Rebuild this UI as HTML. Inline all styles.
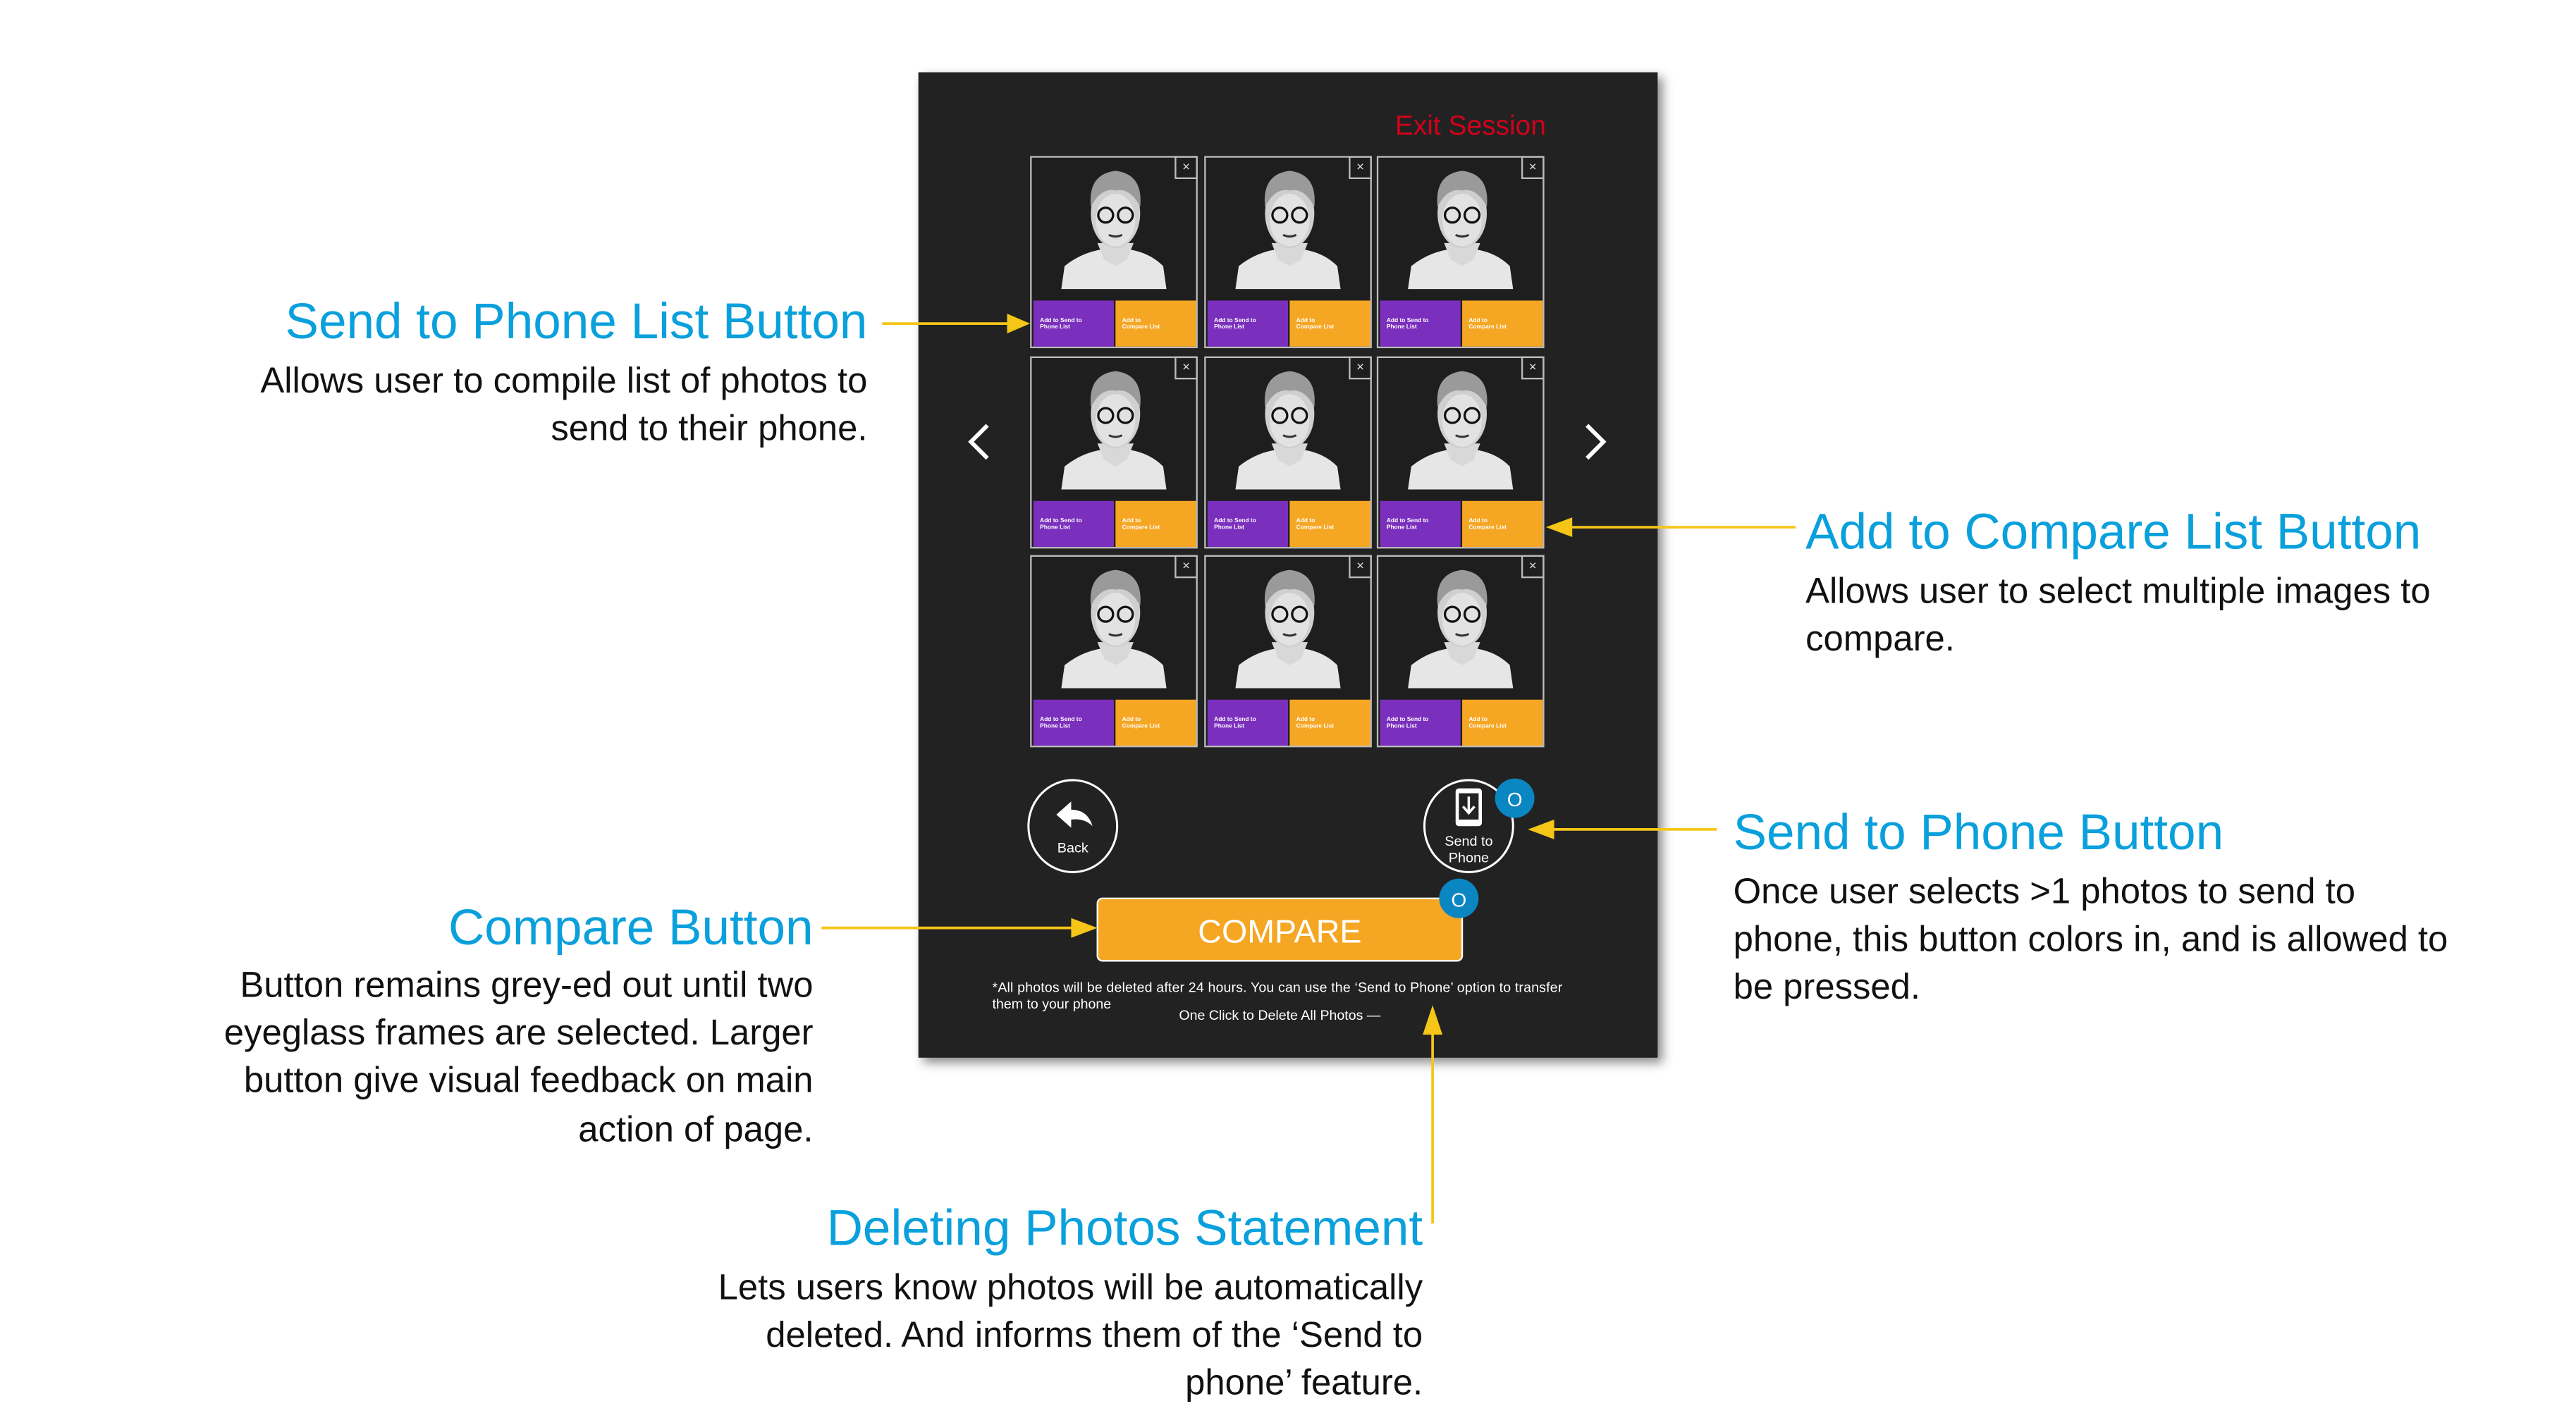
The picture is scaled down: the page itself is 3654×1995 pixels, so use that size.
<!DOCTYPE html>
<html><head><meta charset="utf-8"><style>
html,body{margin:0;padding:0;background:#fff;}
#root{width:3654px;height:1995px;overflow:hidden;position:relative;background:#fff;}
#s{position:absolute;left:0;top:0;width:1568px;height:856px;transform:scale(2.3304);transform-origin:0 0;font-family:"Liberation Sans",sans-serif;}
.a{position:absolute;white-space:nowrap;}
.t{color:#0aa0dc;font-size:30.5px;line-height:30px;}
.b{color:#111;font-size:21.8px;line-height:29px;}
.r{text-align:right;}
.tab{position:absolute;left:559px;top:44px;width:450px;height:600px;background:#222;box-shadow:3px 3px 6px rgba(0,0,0,.45);}
.cell{position:absolute;width:102px;height:117px;border:1px solid #bbb;background:#1e1e1e;box-sizing:border-box;}
.cell .x{position:absolute;right:-1px;top:-1px;width:14px;height:14px;border:1px solid #bbb;box-sizing:border-box;color:#ddd;font-size:8px;line-height:12px;text-align:center;}
.cell .p{position:absolute;left:1px;top:87px;width:49px;height:28px;background:#7a2fbd;}
.cell .o{position:absolute;left:51px;top:87px;width:49px;height:28px;background:#f5a623;}
.cell .p span,.cell .o span{position:absolute;left:4px;top:10px;font-size:3.6px;line-height:4px;color:#fff;font-weight:bold;}
.cell svg{position:absolute;left:0;top:0;}
</style></head><body><div id="root"><div id="s">

<svg width="0" height="0" style="position:absolute">
<defs>
<g id="face">
<path d="M18 80 L20 66 Q30 58 42 56 L46 60 L51 62 L56 60 L60 56 Q72 58 80 66 L82 80 Z" fill="#e6e6e6"/>
<path d="M40 52 L44 62 L51 66 L58 62 L62 52 Z" fill="#d8d8d8"/>
<ellipse cx="51" cy="34" rx="15" ry="21" fill="#cfcfcf"/>
<ellipse cx="51" cy="38" rx="12" ry="16" fill="#e2e2e2"/>
<path d="M36 30 Q34 10 51 8 Q68 10 66 30 Q60 18 51 20 Q42 18 36 30Z" fill="#9a9a9a"/>
<circle cx="45" cy="35" r="4.5" fill="none" stroke="#111" stroke-width="1.4"/>
<circle cx="57" cy="35" r="4.5" fill="none" stroke="#111" stroke-width="1.4"/>
<path d="M47 47 Q51 49 55 47" stroke="#333" stroke-width="1.3" fill="none"/>
</g>
</defs></svg>

<!-- Annotations -->
<div class="a t r" style="right:1040px;top:181px;">Send to Phone List Button</div>
<div class="a b r" style="right:1040px;top:217px;">Allows user to compile list of photos to</div>
<div class="a b r" style="right:1040px;top:246px;">send to their phone.</div>

<div class="a t" style="left:1099px;top:309px;">Add to Compare List Button</div>
<div class="a b" style="left:1099px;top:345px;">Allows user to select multiple images to</div>
<div class="a b" style="left:1099px;top:374px;">compare.</div>

<div class="a t" style="left:1055px;top:492px;">Send to Phone Button</div>
<div class="a b" style="left:1055px;top:528px;">Once user selects &gt;1 photos to send to</div>
<div class="a b" style="left:1055px;top:557px;">phone, this button colors in, and is allowed to</div>
<div class="a b" style="left:1055px;top:586px;">be pressed.</div>

<div class="a t r" style="right:1073px;top:550px;">Compare Button</div>
<div class="a b r" style="right:1073px;top:585px;">Button remains grey-ed out until two</div>
<div class="a b r" style="right:1073px;top:614px;">eyeglass frames are selected. Larger</div>
<div class="a b r" style="right:1073px;top:643px;">button give visual feedback on main</div>
<div class="a b r" style="right:1073px;top:673px;">action of page.</div>

<div class="a t r" style="right:702px;top:733px;">Deleting Photos Statement</div>
<div class="a b r" style="right:702px;top:769px;">Lets users know photos will be automatically</div>
<div class="a b r" style="right:702px;top:798px;">deleted. And informs them of the ‘Send to</div>
<div class="a b r" style="right:702px;top:827px;">phone’ feature.</div>

<!-- Tablet -->
<div class="tab">
<div class="a" style="right:68px;top:23px;color:#d0021b;font-size:16.7px;">Exit Session</div>
</div>

<div class="cell" style="left:627px;top:95px;"><svg width="102" height="88" viewBox="0 0 102 88"><use href="#face"/></svg><div class="x">×</div><div class="p"><span>Add to Send to<br>Phone List</span></div><div class="o"><span>Add to<br>Compare List</span></div></div>
<div class="cell" style="left:733px;top:95px;"><svg width="102" height="88" viewBox="0 0 102 88"><use href="#face"/></svg><div class="x">×</div><div class="p"><span>Add to Send to<br>Phone List</span></div><div class="o"><span>Add to<br>Compare List</span></div></div>
<div class="cell" style="left:838px;top:95px;"><svg width="102" height="88" viewBox="0 0 102 88"><use href="#face"/></svg><div class="x">×</div><div class="p"><span>Add to Send to<br>Phone List</span></div><div class="o"><span>Add to<br>Compare List</span></div></div>
<div class="cell" style="left:627px;top:217px;"><svg width="102" height="88" viewBox="0 0 102 88"><use href="#face"/></svg><div class="x">×</div><div class="p"><span>Add to Send to<br>Phone List</span></div><div class="o"><span>Add to<br>Compare List</span></div></div>
<div class="cell" style="left:733px;top:217px;"><svg width="102" height="88" viewBox="0 0 102 88"><use href="#face"/></svg><div class="x">×</div><div class="p"><span>Add to Send to<br>Phone List</span></div><div class="o"><span>Add to<br>Compare List</span></div></div>
<div class="cell" style="left:838px;top:217px;"><svg width="102" height="88" viewBox="0 0 102 88"><use href="#face"/></svg><div class="x">×</div><div class="p"><span>Add to Send to<br>Phone List</span></div><div class="o"><span>Add to<br>Compare List</span></div></div>
<div class="cell" style="left:627px;top:338px;"><svg width="102" height="88" viewBox="0 0 102 88"><use href="#face"/></svg><div class="x">×</div><div class="p"><span>Add to Send to<br>Phone List</span></div><div class="o"><span>Add to<br>Compare List</span></div></div>
<div class="cell" style="left:733px;top:338px;"><svg width="102" height="88" viewBox="0 0 102 88"><use href="#face"/></svg><div class="x">×</div><div class="p"><span>Add to Send to<br>Phone List</span></div><div class="o"><span>Add to<br>Compare List</span></div></div>
<div class="cell" style="left:838px;top:338px;"><svg width="102" height="88" viewBox="0 0 102 88"><use href="#face"/></svg><div class="x">×</div><div class="p"><span>Add to Send to<br>Phone List</span></div><div class="o"><span>Add to<br>Compare List</span></div></div>

<svg class="a" style="left:0;top:0" width="1568" height="856" viewBox="0 0 1568 856">
<polyline points="601,259 591,269 601,279" fill="none" stroke="#fff" stroke-width="2.5"/>
<polyline points="966,259 976,269 966,279" fill="none" stroke="#fff" stroke-width="2.5"/>
<ellipse cx="653" cy="503" rx="27" ry="28" fill="none" stroke="#fff" stroke-width="1.3"/>
<path d="M643 496 L652 488 L652 493 Q662 493 665 503 Q660 498 652 499 L652 504 Z" fill="#fff"/>
<text x="653" y="519" fill="#fff" font-size="8.5" text-anchor="middle" font-family="Liberation Sans">Back</text>
<ellipse cx="894" cy="503" rx="27" ry="28" fill="none" stroke="#fff" stroke-width="1.3"/>
<rect x="886" y="480" width="16" height="23" rx="2" fill="#fff"/>
<rect x="888" y="483" width="12" height="16" fill="#222"/>
<path d="M894 485 L894 494 M890.5 491 L894 495 L897.5 491" stroke="#fff" stroke-width="1.5" fill="none"/>
<text x="894" y="515" fill="#fff" font-size="8.5" text-anchor="middle" font-family="Liberation Sans">Send to</text>
<text x="894" y="525" fill="#fff" font-size="8.5" text-anchor="middle" font-family="Liberation Sans">Phone</text>
<ellipse cx="922" cy="486" rx="12" ry="12" fill="#0a86c2"/>
<text x="922" y="491" fill="#fff" font-size="12" text-anchor="middle" font-family="Liberation Sans">O</text>
<rect x="668" y="547" width="222" height="38" rx="3" fill="#f5a623" stroke="#fff" stroke-width="1"/>
<text x="779" y="574" fill="#fff" font-size="20" text-anchor="middle" font-family="Liberation Sans">COMPARE</text>
<ellipse cx="888" cy="547" rx="12" ry="12" fill="#0a86c2"/>
<text x="888" y="552" fill="#fff" font-size="12" text-anchor="middle" font-family="Liberation Sans">O</text>
<text x="604" y="604" fill="#fff" font-size="8.4" font-family="Liberation Sans" textLength="347">*All photos will be deleted after 24 hours. You can use the ‘Send to Phone’ option to transfer</text>
<text x="604" y="614" fill="#fff" font-size="8.4" font-family="Liberation Sans">them to your phone</text>
<text x="779" y="621" fill="#fff" font-size="8.4" text-anchor="middle" font-family="Liberation Sans">One Click to Delete All Photos —</text>
<g stroke="#f5c518" stroke-width="1.6" fill="#f5c518">
<line x1="537" y1="197" x2="615" y2="197"/><polygon points="627,197 613,191 613,203" stroke="none"/>
<line x1="1093" y1="321" x2="955" y2="321"/><polygon points="941,321 957,315 957,327" stroke="none"/>
<line x1="1045" y1="505" x2="944" y2="505"/><polygon points="930,505 946,499 946,511" stroke="none"/>
<line x1="500" y1="565" x2="654" y2="565"/><polygon points="668,565 652,559 652,571" stroke="none"/>
<line x1="872" y1="745" x2="872" y2="628"/><polygon points="872,612 866,630 878,630" stroke="none"/>
</g>
</svg>

</div></div></body></html>
